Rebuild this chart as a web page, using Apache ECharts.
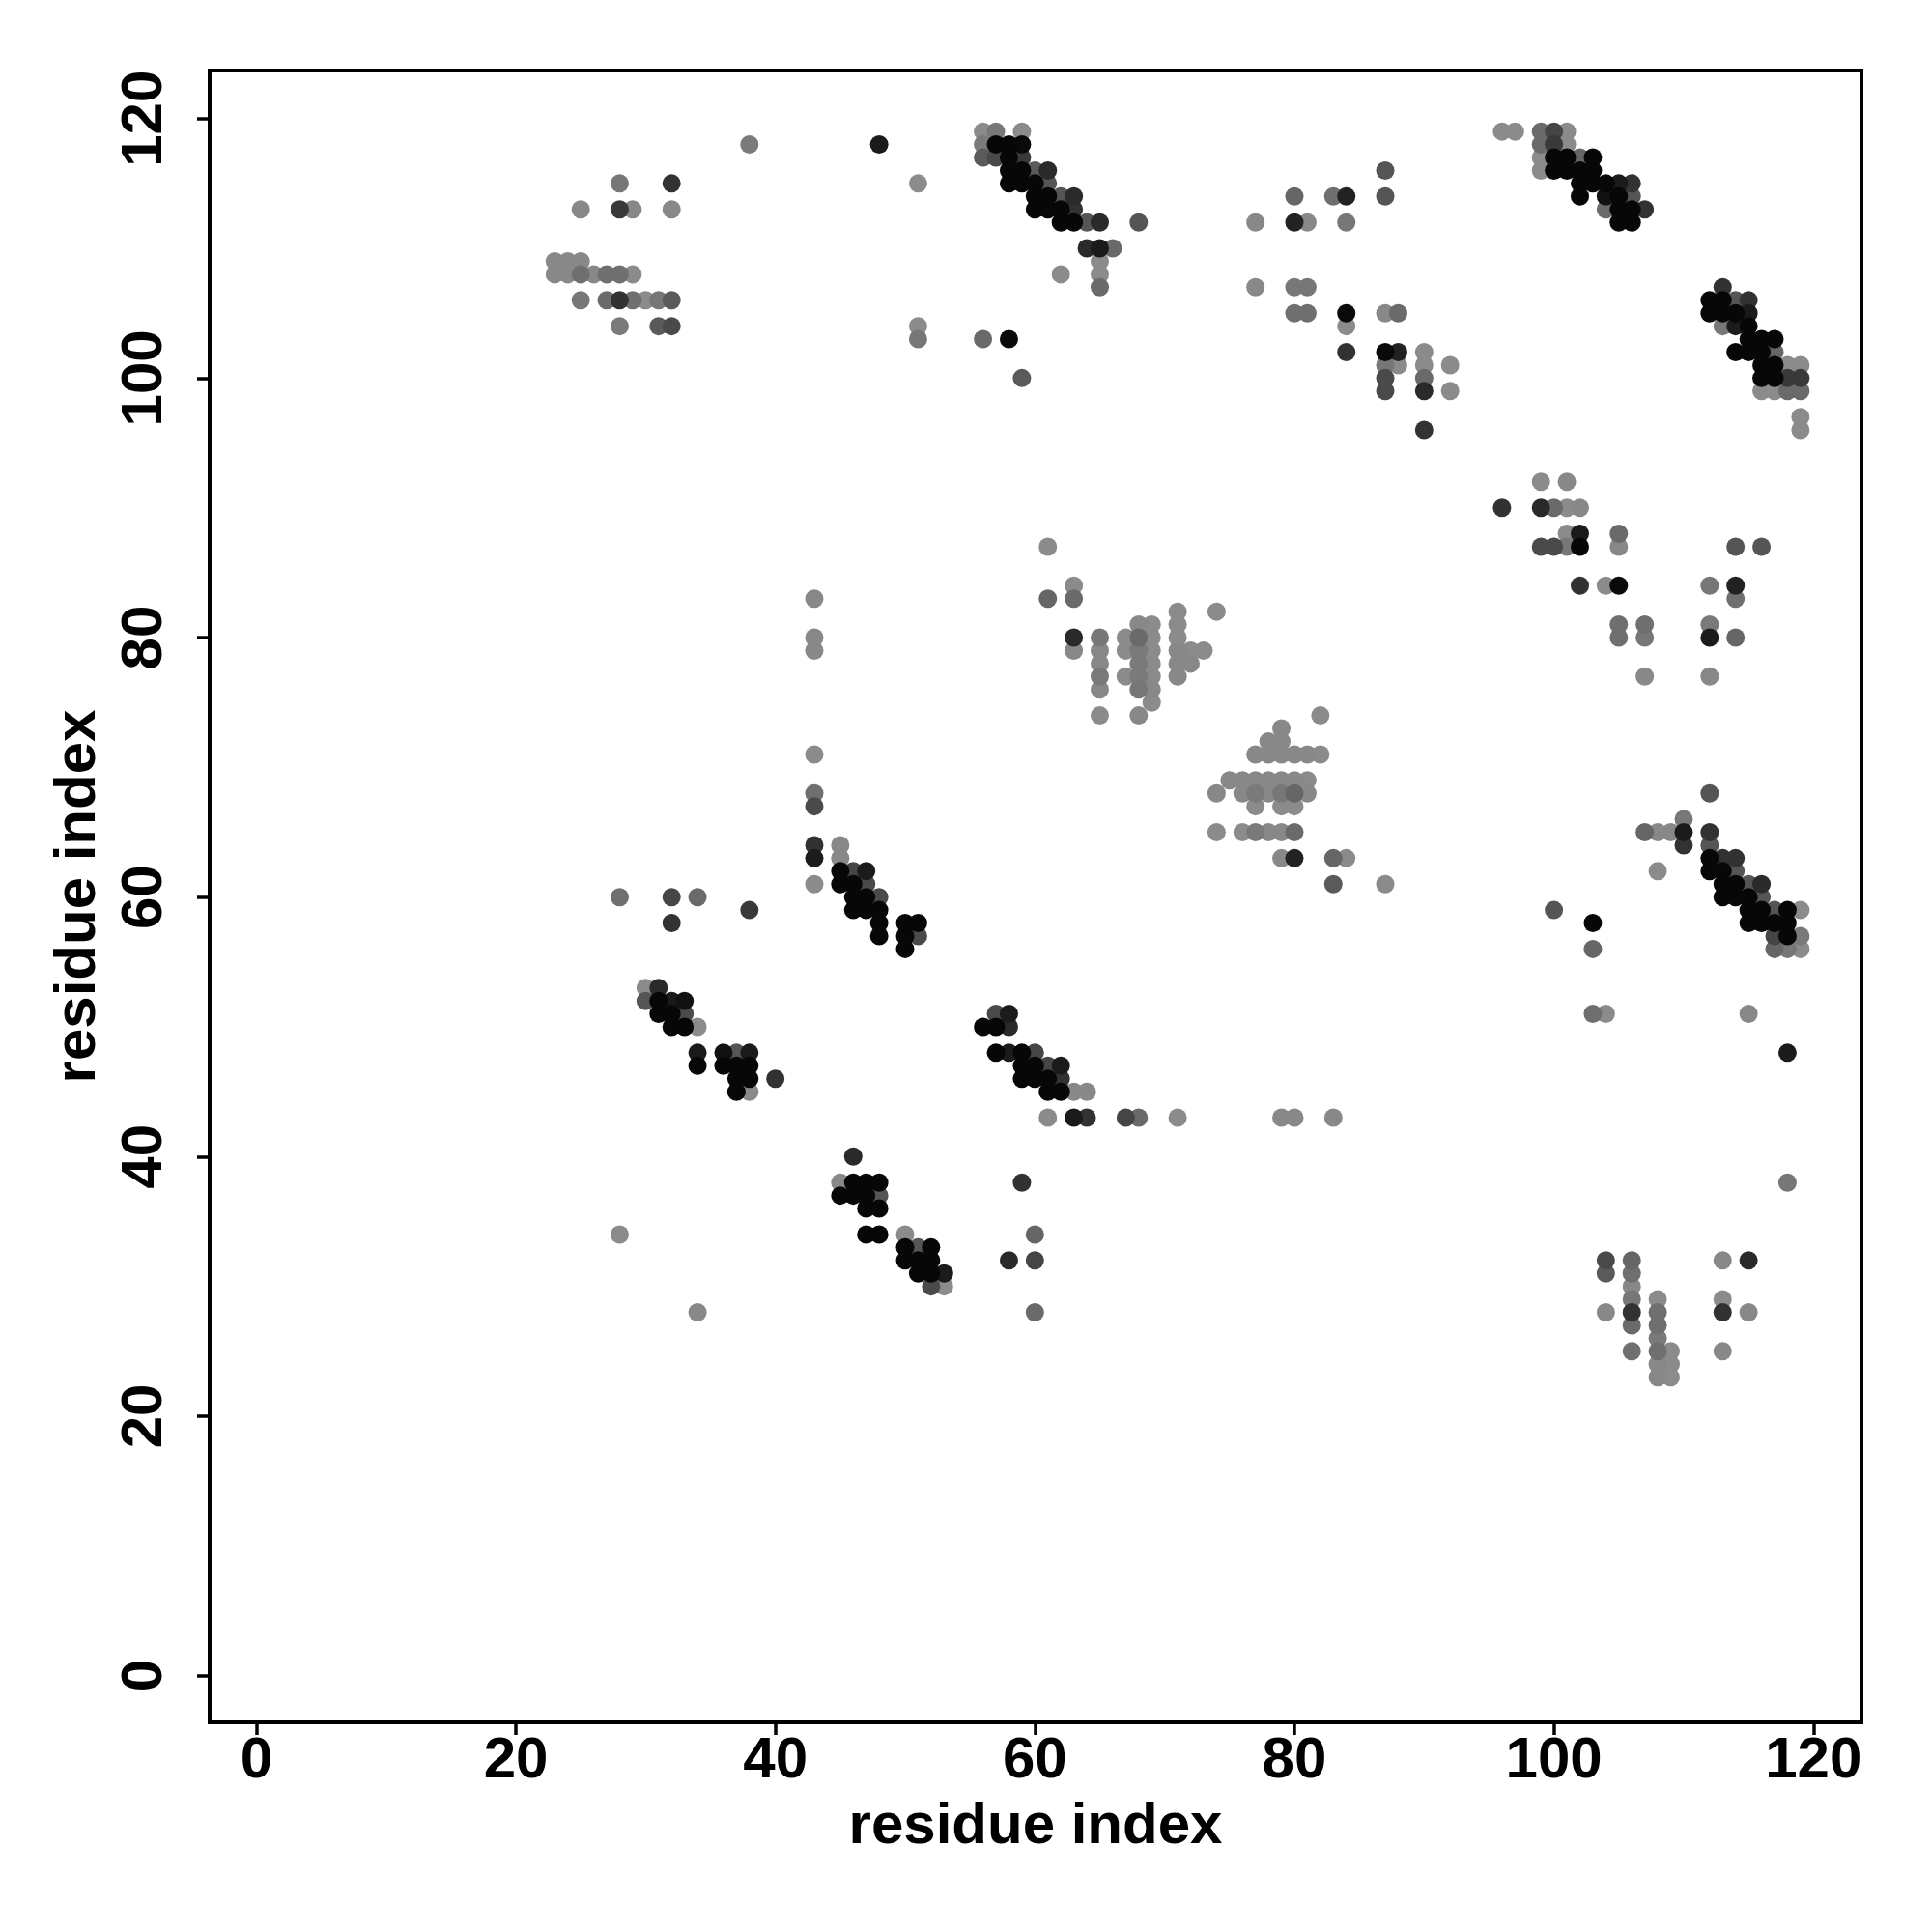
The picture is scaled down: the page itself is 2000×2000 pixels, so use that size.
<!DOCTYPE html>
<html>
<head>
<meta charset="utf-8">
<script src="https://cdn.jsdelivr.net/npm/echarts@6/dist/echarts.min.js"></script>
<style>html,body{margin:0;padding:0;background:#fff}#chart{width:2000px;height:2000px}</style>
</head>
<body>
<div id="chart"></div>
<script>
// Each point: [residue i, residue j, contact strength 0..1]
const clusterTopLeft = [
[38,118,0.13],[28,115,0.15],[32,115,0.64],
[25,113,0.03],[28,113,0.59],[29,113,0.03],[32,113,0.03],
[23,109,0.03],[24,109,0.03],[25,109,0.03],
[23,108,0.03],[24,108,0.03],[25,108,0.21],[26,108,0.03],[27,108,0.21],[28,108,0.21],[29,108,0.01],
[25,106,0.15],[27,106,0.24],[28,106,0.64],[29,106,0.21],[30,106,0.01],[31,106,0.15],[32,106,0.36],
[28,104,0.13],[31,104,0.36],[32,104,0.47]
];
const clusterTopMid = [
[48,118,0.81],[51,115,0.01],
[56,119,0.01],[57,119,0.15],[59,119,0.01],
[56,118,0.13],[57,118,0.95],[58,118,0.95],[59,118,0.93],
[56,117,0.36],[57,117,0.47],[58,117,0.95],[59,117,0.59],
[58,116,0.95],[59,116,0.95],[60,116,0.36],[61,116,0.7],
[58,115,0.95],[59,115,0.95],[60,115,0.95],[61,115,0.39],
[60,114,0.95],[61,114,0.95],[62,114,0.39],[63,114,0.7],
[60,113,0.95],[61,113,0.95],[62,113,0.95],[63,113,0.64],
[62,112,0.95],[63,112,0.95],[64,112,0.39],[65,112,0.7],[68,112,0.39],
[64,110,0.7],[65,110,0.81],[66,110,0.24],
[65,109,0.01],[62,108,0.01],[65,108,0.01],[65,107,0.24],
[51,104,0.01],[51,103,0.15],[56,103,0.24],[58,103,0.93],[59,100,0.36]
];
const clusterTopRightA = [
[87,116,0.39],
[80,114,0.27],[83,114,0.21],[84,114,0.76],[87,114,0.39],
[77,112,0.03],[80,112,0.76],[81,112,0.03],[84,112,0.15],
[77,107,0.03],[80,107,0.15],[81,107,0.15],
[80,105,0.21],[81,105,0.21],[84,105,0.93],[87,105,0.03],[88,105,0.24],
[84,104,0.01],
[84,102,0.64],[87,102,0.93],[88,102,0.76],[90,102,0.01],
[87,101,0.15],[88,101,0.01],[90,101,0.01],[92,101,0.01],
[87,100,0.47],[90,100,0.24],
[87,99,0.47],[90,99,0.7],[92,99,0.01],
[90,96,0.64]
];
const clusterTopRightB = [
[96,119,0.01],[97,119,0.01],[99,119,0.24],[100,119,0.51],[101,119,0.01],
[99,118,0.24],[100,118,0.59],[101,118,0.01],
[99,117,0.01],[100,117,0.95],[101,117,0.95],[102,117,0.27],[103,117,0.95],
[99,116,0.01],[100,116,0.95],[101,116,0.95],[102,116,0.95],[103,116,0.95],
[102,115,0.95],[103,115,0.95],[104,115,0.95],[105,115,0.81],[106,115,0.64],
[102,114,0.95],[104,114,0.88],[105,114,0.95],[106,114,0.39],
[104,113,0.24],[105,113,0.95],[106,113,0.95],[107,113,0.64],
[105,112,0.95],[106,112,0.95],
[113,107,0.64],
[112,106,0.95],[113,106,0.95],[114,106,0.39],[115,106,0.64],
[112,105,0.95],[113,105,0.95],[114,105,0.95],[115,105,0.81],
[113,104,0.15],[114,104,0.81],[115,104,0.95],
[115,103,0.95],[116,103,0.95],[117,103,0.95],
[114,102,0.95],[115,102,0.95],[116,102,0.95],[117,102,0.27],
[116,101,0.95],[117,101,0.95],[118,101,0.01],[119,101,0.01],
[116,100,0.95],[117,100,0.95],[118,100,0.59],[119,100,0.59],
[116,99,0.01],[117,99,0.01],[118,99,0.24],[119,99,0.24],
[119,97,0.01],[119,96,0.01]
];
const clusterMidUpper = [
[43,83,0.03],[43,80,0.03],[43,79,0.03],
[61,87,0.01],[61,83,0.27],[63,84,0.01],[63,83,0.24],
[63,80,0.7],[63,79,0.03],
[65,80,0.15],[65,79,0.03],[65,78,0.03],[65,77,0.13],[65,76,0.03],[65,74,0.01],
[67,80,0.01],[67,79,0.01],[67,77,0.01],
[68,81,0.03],[68,80,0.24],[68,79,0.13],[68,78,0.13],[68,77,0.13],[68,76,0.15],[68,74,0.03],
[69,81,0.01],[69,80,0.01],[69,79,0.01],[69,78,0.01],[69,77,0.01],[69,76,0.03],[69,75,0.01],
[71,82,0.01],[71,81,0.01],[71,80,0.01],[71,79,0.03],[71,78,0.03],[71,77,0.03],
[72,79,0.01],[72,78,0.03],[73,79,0.01],[74,82,0.01]
];
const clusterRightUpper = [
[99,92,0.01],[101,92,0.03],
[96,90,0.64],[99,90,0.7],[100,90,0.24],[101,90,0.01],[102,90,0.03],
[101,88,0.01],[102,88,0.81],[105,88,0.24],
[99,87,0.47],[100,87,0.47],[101,87,0.15],[102,87,0.95],[105,87,0.03],
[114,87,0.39],[116,87,0.39],
[102,84,0.64],[104,84,0.01],[105,84,0.93],
[112,84,0.15],[114,84,0.76],[114,83,0.21],
[105,81,0.21],[105,80,0.21],[107,81,0.21],[107,80,0.15],
[112,81,0.13],[112,80,0.81],[114,80,0.27],
[107,77,0.03],[112,77,0.03]
];
const clusterCentre = [
[82,74,0.01],[79,73,0.03],[78,72,0.03],[79,72,0.03],
[77,71,0.03],[78,71,0.03],[79,71,0.03],[80,71,0.03],[81,71,0.03],[82,71,0.01],
[75,69,0.03],[76,69,0.03],[77,69,0.03],[78,69,0.03],[79,69,0.03],[80,69,0.03],[81,69,0.01],
[74,68,0.03],[76,68,0.03],[77,68,0.13],[78,68,0.03],[79,68,0.15],[80,68,0.27],[81,68,0.03],
[77,67,0.01],[79,67,0.01],[80,67,0.01],
[74,65,0.01],[76,65,0.01],[77,65,0.13],[78,65,0.03],[79,65,0.03],[80,65,0.24],
[79,63,0.03],[80,63,0.76],[83,63,0.27],[84,63,0.01],
[83,61,0.36],[87,61,0.01]
];
const clusterLeftMid = [
[43,71,0.01],[43,68,0.21],[43,67,0.47],[43,64,0.64],[43,63,0.81],[43,61,0.01],
[45,64,0.03],[45,63,0.03],
[45,62,0.95],[46,62,0.51],[47,62,0.81],
[45,61,0.95],[46,61,0.95],[47,61,0.47],
[46,60,0.95],[47,60,0.95],[48,60,0.47],
[46,59,0.95],[47,59,0.95],[48,59,0.95],
[48,58,0.95],[50,58,0.95],[51,58,0.95],
[48,57,0.95],[50,57,0.95],[51,57,0.47],
[50,56,0.95],
[28,60,0.21],[32,60,0.51],[34,60,0.24],[32,58,0.64],[38,59,0.59],
[30,53,0.01],[31,53,0.7],
[30,52,0.39],[31,52,0.95],[32,52,0.81],[33,52,0.88],
[31,51,0.95],[32,51,0.95],[33,51,0.47],
[32,50,0.95],[33,50,0.95],[34,50,0.01],
[34,48,0.81],[36,48,0.88],[37,48,0.39],[38,48,0.81],
[34,47,0.95],[36,47,0.95],[37,47,0.95],[38,47,0.95],
[37,46,0.95],[38,46,0.95],[40,46,0.64],
[37,45,0.95],[38,45,0.01]
];
const clusterMidLower = [
[57,51,0.47],[58,51,0.81],
[56,50,0.95],[57,50,0.95],[58,50,0.7],
[57,48,0.95],[58,48,0.81],[59,48,0.95],[60,48,0.51],
[59,47,0.95],[60,47,0.95],[61,47,0.51],[62,47,0.81],
[59,46,0.95],[60,46,0.95],[61,46,0.95],[62,46,0.64],
[61,45,0.95],[62,45,0.95],[63,45,0.03],[64,45,0.03],
[61,43,0.01],[63,43,0.81],[64,43,0.64],[67,43,0.51],[68,43,0.24],[71,43,0.01],[79,43,0.03],[80,43,0.03],[83,43,0.03]
];
const clusterRightMid = [
[112,68,0.39],[110,66,0.15],
[107,65,0.27],[108,65,0.03],[109,65,0.03],[110,65,0.81],[112,65,0.64],
[110,64,0.64],[112,64,0.39],
[112,63,0.95],[113,63,0.64],[114,63,0.64],
[108,62,0.01],
[112,62,0.95],[113,62,0.95],[114,62,0.39],
[113,61,0.95],[114,61,0.95],[115,61,0.39],[116,61,0.7],
[113,60,0.95],[114,60,0.95],[115,60,0.95],[116,60,0.39],
[100,59,0.39],[115,59,0.95],[116,59,0.95],[117,59,0.39],[118,59,0.95],[119,59,0.01],
[103,58,0.95],[115,58,0.95],[116,58,0.95],[117,58,0.95],[118,58,0.95],
[117,57,0.51],[118,57,0.95],[119,57,0.13],
[103,56,0.27],[117,56,0.27],[118,56,0.15],[119,56,0.01],
[103,51,0.21],[104,51,0.01],[115,51,0.03],
[118,48,0.81]
];
const clusterLowerLeft = [
[28,34,0.01],[34,28,0.03],
[46,40,0.7],
[45,38,0.03],[46,38,0.95],[47,38,0.95],[48,38,0.95],
[45,37,0.95],[46,37,0.95],[47,37,0.95],[48,37,0.39],
[47,36,0.95],[48,36,0.95],
[47,34,0.95],[48,34,0.95],[50,34,0.01],
[50,33,0.95],[51,33,0.39],[52,33,0.95],
[50,32,0.95],[51,32,0.95],[52,32,0.95],
[51,31,0.95],[52,31,0.95],[53,31,0.81],
[52,30,0.47],[53,30,0.01],
[59,38,0.64],[60,34,0.27],[58,32,0.7],[60,32,0.51],[60,28,0.24]
];
const clusterLowerRight = [
[118,38,0.15],
[104,32,0.47],[104,31,0.36],[104,28,0.03],
[106,32,0.27],[106,31,0.21],[106,30,0.03],[106,29,0.15],[106,28,0.64],[106,27,0.24],[106,25,0.21],
[108,29,0.01],[108,28,0.21],[108,27,0.21],[108,26,0.13],[108,25,0.21],[108,24,0.03],[108,23,0.03],
[109,25,0.01],[109,24,0.01],[109,23,0.01],
[113,32,0.03],[113,29,0.01],[113,28,0.64],[113,25,0.03],
[115,32,0.7],[115,28,0.03]
];
const tickValues = [0, 20, 40, 60, 80, 100, 120];
const axisTitle = 'residue index';

const allPoints = [].concat(clusterTopLeft, clusterTopMid, clusterTopRightA, clusterTopRightB,
  clusterMidUpper, clusterRightUpper, clusterCentre, clusterLeftMid, clusterMidLower,
  clusterRightMid, clusterLowerLeft, clusterLowerRight).slice().sort((a, b) => a[2] - b[2]);

const FONT = '"Liberation Sans", Arial, Helvetica, sans-serif';
const chart = echarts.init(document.getElementById('chart'), null, {renderer: 'canvas'});
const axisCommon = (isY) => ({
  type: 'value',
  min: -3.6,
  max: 123.7,
  name: axisTitle,
  nameLocation: 'middle',
  nameGap: isY ? 106 : 78,
  nameTextStyle: {fontSize: 60, fontWeight: 'bold', color: '#000', fontFamily: FONT},
  axisLine: {show: false, onZero: false},
  splitLine: {show: false},
  axisTick: {show: true, inside: false, length: 13, customValues: tickValues,
    lineStyle: {color: '#000', width: 3.5}},
  axisLabel: {show: true, customValues: tickValues, fontSize: 60, fontWeight: 'bold',
    color: '#000', fontFamily: FONT, margin: isY ? 37 : 10, rotate: isY ? 90 : 0}
});

chart.setOption({
  backgroundColor: '#ffffff',
  animation: false,
  grid: {left: 217, right: 73, top: 73, bottom: 217, show: true,
    borderColor: '#000', borderWidth: 4, backgroundColor: 'transparent'},
  xAxis: axisCommon(false),
  yAxis: axisCommon(true),
  visualMap: {show: false, type: 'continuous', dimension: 2, min: 0, max: 1,
    inRange: {color: ['#8c8c8c', '#000000']}},
  series: [{
    type: 'scatter',
    data: allPoints,
    symbol: 'circle',
    symbolSize: 19,
    itemStyle: {opacity: 1},
    silent: true
  }]
});
</script>
</body>
</html>
